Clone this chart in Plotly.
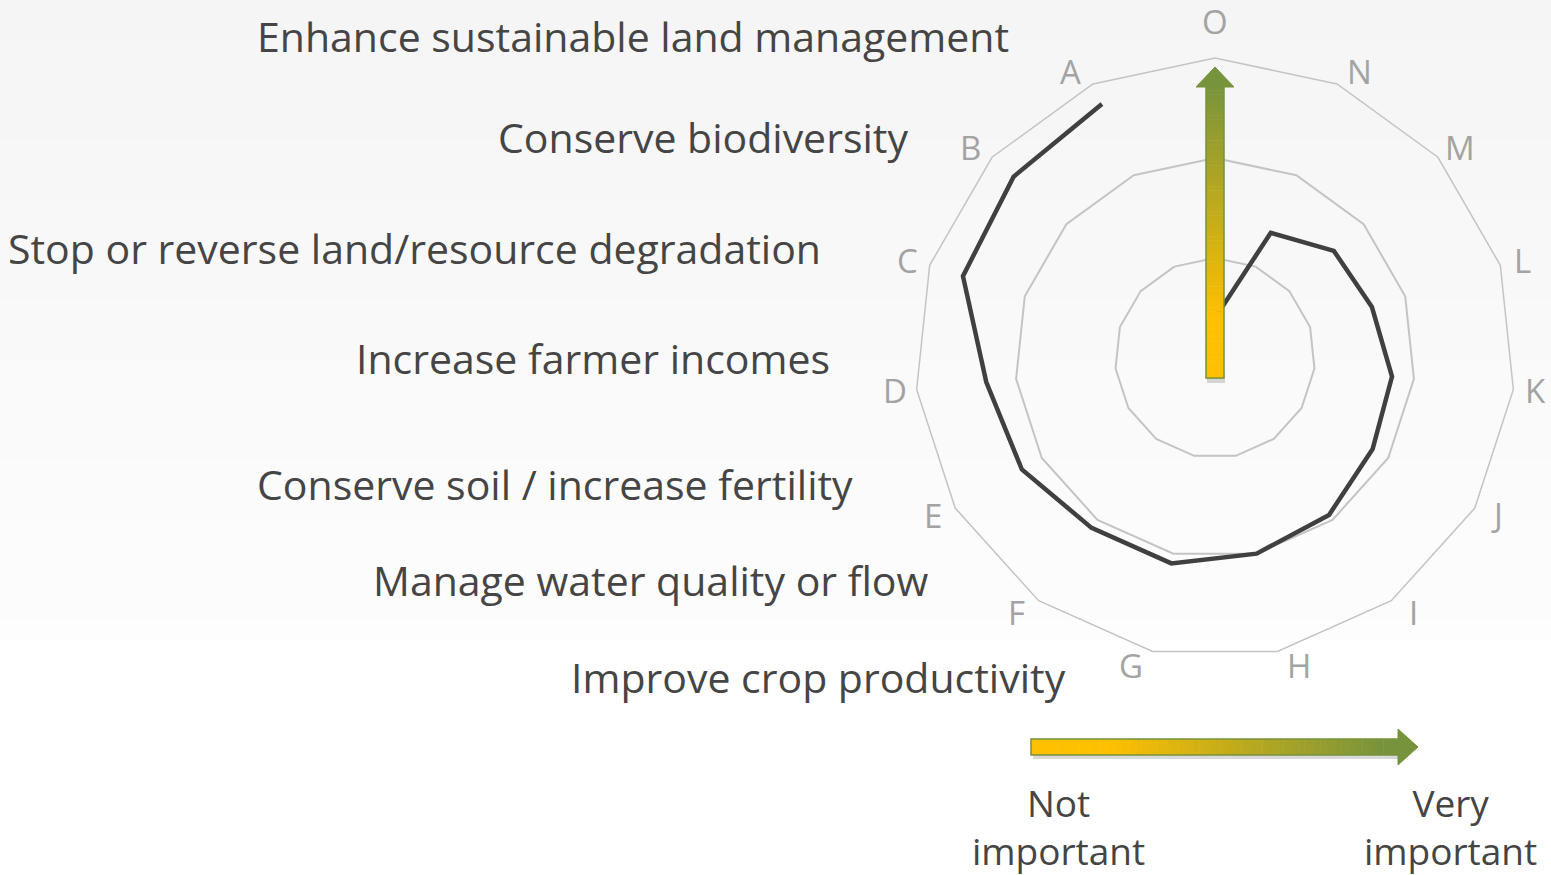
import math
import plotly.graph_objects as go

W, H = 1551, 875

# spokes of the radar, clockwise from the top
categories = ['O', 'N', 'M', 'L', 'K', 'J', 'I', 'H', 'G', 'F', 'E', 'D', 'C', 'B', 'A']
scores = [0.4, 1.37, 1.6, 1.65, 1.78, 1.82, 1.94, 2.0, 2.1, 2.1, 2.23, 2.3, 2.65, 2.71, 2.78]
grid_levels = [1, 2, 3]

objectives = [
    'Enhance sustainable land management',
    'Conserve biodiversity',
    'Stop or reverse land/resource degradation',
    'Increase farmer incomes',
    'Conserve soil / increase fertility',
    'Manage water quality or flow',
    'Improve crop productivity',
]
scale_labels = ['Not<br>important', 'Very<br>important']

FONT = 'Open Sans'
TEXT = '#454545'
YELLOW = (255, 192, 0)
GREEN = (119, 147, 60)

# radar centre / radius in pixels
cx, cy, R = 1215, 358, 300


def px(x):
    return x / W


def py(y):
    return 1 - y / H


def mix(t):
    t = min(max(t, 0), 1)
    c = [round(a + (b - a) * t) for a, b in zip(YELLOW, GREEN)]
    return 'rgb(%d,%d,%d)' % tuple(c)


def rect(x0, y0, x1, y1, color, layer='above', line=None):
    return dict(type='rect', xref='paper', yref='paper', layer=layer,
                x0=px(x0), x1=px(x1), y0=py(y1), y1=py(y0),
                fillcolor=color, line=line or dict(width=0))


def path(points, color, layer='above'):
    d = 'M ' + ' L '.join('%f,%f' % (px(a), py(b)) for a, b in points) + ' Z'
    return dict(type='path', xref='paper', yref='paper', layer=layer, path=d,
                fillcolor=color, line=dict(color=color, width=1))


fig = go.Figure()

fig.add_trace(go.Scatterpolar(
    r=scores, theta=categories, mode='lines',
    line=dict(color='#404040', width=4.5),
    hoverinfo='skip', showlegend=False,
))

shapes = []

# faint slide background
band_n = 32
for i in range(band_n):
    y0 = 640 * i / band_n
    y1 = 640 * (i + 1) / band_n
    g = round(245 + 8 * i / band_n)
    shapes.append(rect(0, y0, W, y1, 'rgb(%d,%d,%d)' % (g, g, g), layer='below'))

# vertical gradient arrow
sx0, sx1, s_bot, s_top = cx - 9, cx + 9, 378, 86
shapes.append(rect(sx0 + 1, s_bot - 4, sx1 + 1, s_bot + 5, 'rgba(0,0,0,0.15)'))
n = 70
for i in range(n):
    y0 = s_bot - (s_bot - s_top) * i / n
    y1 = s_bot - (s_bot - s_top) * (i + 1) / n
    shapes.append(rect(sx0, y1, sx1, y0 + 0.5, mix((i / n - 0.2) / 0.8)))
shapes.append(rect(sx0, s_top, sx1, s_bot, 'rgba(0,0,0,0)',
                   line=dict(color='rgb(119,147,60)', width=1.5)))
shapes.append(path([(cx - 19, s_top + 1), (cx, 67), (cx + 19, s_top + 1)], 'rgb(119,147,60)'))

# horizontal gradient arrow
hx0, hx1, hy0, hy1 = 1031, 1399, 739, 755
shapes.append(rect(hx0 + 2, hy1 - 4, hx1, hy1 + 4, 'rgba(0,0,0,0.15)'))
for i in range(n):
    x0 = hx0 + (hx1 - hx0) * i / n
    x1 = hx0 + (hx1 - hx0) * (i + 1) / n
    shapes.append(rect(x0, hy0, x1 + 0.5, hy1, mix((i / n - 0.2) / 0.75)))
shapes.append(rect(hx0, hy0, hx1, hy1, 'rgba(0,0,0,0)',
                   line=dict(color='rgb(119,147,60)', width=1.5)))
shapes.append(path([(hx1 - 1, 729), (1418, 747), (hx1 - 1, 765)], 'rgb(119,147,60)'))

annotations = []

# spoke labels, set beside each outer vertex
for k, cat in enumerate(categories):
    a = 2 * math.pi * k / len(categories)
    s, c = math.sin(a), math.cos(a)
    lx = cx + R * s + (22 if s > 0.01 else -22 if s < -0.01 else 0)
    ly = cy - R * c - 14 * c - (23 if k == 0 else 0)
    annotations.append(dict(text=cat, x=px(lx), y=py(ly),
                            xref='paper', yref='paper', xanchor='center', yanchor='middle',
                            showarrow=False, font=dict(family=FONT, size=33, color='#a3a3a3')))

# objective list on the left
text_x = [633, 703, 414, 593, 555, 651, 818]
text_y = [36, 137, 248, 358, 484, 580, 677]
for t, x, y in zip(objectives, text_x, text_y):
    annotations.append(dict(text=t, x=px(x), y=py(y), xref='paper', yref='paper',
                            xanchor='center', yanchor='middle', showarrow=False,
                            font=dict(family=FONT, size=41, color=TEXT)))
for t, x in zip(scale_labels, [1058, 1450]):
    annotations.append(dict(text=t, x=px(x), y=py(826), xref='paper', yref='paper',
                            xanchor='center', yanchor='middle', showarrow=False,
                            font=dict(family=FONT, size=37, color=TEXT)))

fig.update_layout(
    width=W, height=H, autosize=False,
    margin=dict(l=0, r=0, t=0, b=0),
    paper_bgcolor='white', plot_bgcolor='rgba(0,0,0,0)',
    showlegend=False,
    polar=dict(
        domain=dict(x=[px(cx - R), px(cx + R)], y=[py(cy + R), py(cy - R)]),
        bgcolor='rgba(0,0,0,0)',
        gridshape='linear',
        radialaxis=dict(range=[0, 3], tickvals=grid_levels, showticklabels=False,
                        ticks='', showline=False, gridcolor='#c4c4c4', gridwidth=1.5),
        angularaxis=dict(direction='clockwise', rotation=90, categoryorder='array',
                         categoryarray=categories, showgrid=False, showticklabels=False,
                         ticks='', showline=True, linecolor='#c4c4c4', linewidth=1.5),
    ),
    shapes=shapes,
    annotations=annotations,
)

fig.write_html('out.html', config={'displayModeBar': False},
               post_script="document.body.style.margin='0';")
